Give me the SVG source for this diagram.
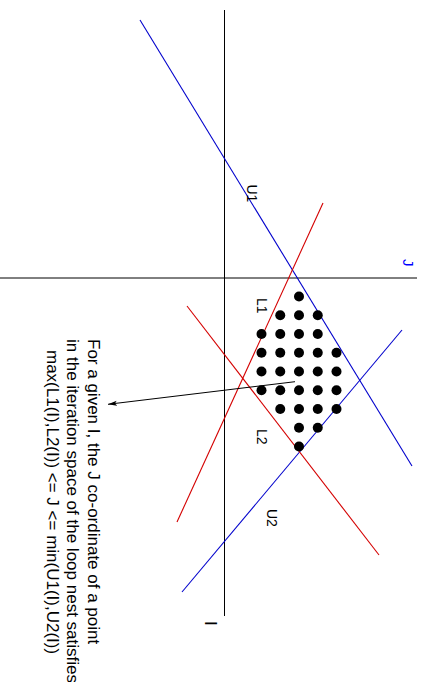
<svg xmlns="http://www.w3.org/2000/svg" width="424" height="682" viewBox="0 0 424 682">
<style>
.ax{stroke:#000;stroke-width:1;fill:none}
.red{stroke:#d40000;stroke-width:1.1;fill:none}
.blue{stroke:#0000cc;stroke-width:1.1;fill:none}
.lbl{font-family:"Liberation Sans",Arial,sans-serif;font-size:14px;fill:#000}
.txt{font-family:"Liberation Sans",Arial,sans-serif;font-size:17px;fill:#000}
.dot{fill:#000}
</style>
<defs>
<marker id="ah" markerWidth="10" markerHeight="6" refX="9" refY="3" orient="auto" markerUnits="userSpaceOnUse">
<path d="M0,0.5 L9,3 L0,5.5 L2,3 Z" fill="#000"/>
</marker>
</defs>
<g id="axes">
<line class="ax" x1="224.5" y1="10" x2="224.5" y2="616"/>
<line class="ax" x1="0" y1="278" x2="417" y2="278"/>
<text class="txt" style="font-size:15px;fill:#0000ff" transform="translate(403,259) rotate(90)">J</text>
<text class="txt" transform="translate(205,621) rotate(90)">I</text>
</g>
<g id="bounds">
<g id="U1"><line class="blue" x1="140" y1="20" x2="412" y2="466"/><text class="lbl" transform="translate(247.3,184.5) rotate(90)">U1</text></g>
<g id="U2"><line class="blue" x1="402" y1="330" x2="182" y2="592"/><text class="lbl" transform="translate(267,509) rotate(90)">U2</text></g>
<g id="L1"><line class="red" x1="323" y1="203" x2="177" y2="522"/><text class="lbl" transform="translate(257,298) rotate(90)">L1</text></g>
<g id="L2"><line class="red" x1="187" y1="306" x2="379" y2="555"/><text class="lbl" transform="translate(256.5,429) rotate(90)">L2</text></g>
</g>
<g id="points">
<circle class="dot" cx="299" cy="296.5" r="5"/>
<circle class="dot" cx="280.25" cy="315.25" r="5"/><circle class="dot" cx="299" cy="315.25" r="5"/><circle class="dot" cx="317.75" cy="315.25" r="5"/>
<circle class="dot" cx="261.5" cy="334" r="5"/><circle class="dot" cx="280.25" cy="334" r="5"/><circle class="dot" cx="299" cy="334" r="5"/><circle class="dot" cx="317.75" cy="334" r="5"/>
<circle class="dot" cx="261.5" cy="352.75" r="5"/><circle class="dot" cx="280.25" cy="352.75" r="5"/><circle class="dot" cx="299" cy="352.75" r="5"/><circle class="dot" cx="317.75" cy="352.75" r="5"/><circle class="dot" cx="336.5" cy="352.75" r="5"/>
<circle class="dot" cx="261.5" cy="371.5" r="5"/><circle class="dot" cx="280.25" cy="371.5" r="5"/><circle class="dot" cx="299" cy="371.5" r="5"/><circle class="dot" cx="317.75" cy="371.5" r="5"/><circle class="dot" cx="336.5" cy="371.5" r="5"/>
<circle class="dot" cx="261.5" cy="390.25" r="5"/><circle class="dot" cx="280.25" cy="390.25" r="5"/><circle class="dot" cx="299" cy="390.25" r="5"/><circle class="dot" cx="317.75" cy="390.25" r="5"/><circle class="dot" cx="336.5" cy="390.25" r="5"/>
<circle class="dot" cx="280.25" cy="409" r="5"/><circle class="dot" cx="299" cy="409" r="5"/><circle class="dot" cx="317.75" cy="409" r="5"/><circle class="dot" cx="336.5" cy="409" r="5"/>
<circle class="dot" cx="299" cy="427.75" r="5"/><circle class="dot" cx="317.75" cy="427.75" r="5"/>
<circle class="dot" cx="299" cy="446.5" r="5"/>
</g>
<g id="connectors">
<line x1="295" y1="381.7" x2="108" y2="404.3" stroke="#000" stroke-width="1" marker-end="url(#ah)"/>
</g>
<g id="note">
<text class="txt" transform="translate(87.5,339) rotate(90)">For a given I, the J co-ordinate of a point</text>
<text class="txt" transform="translate(67,339) rotate(90)">in the iteration space of the loop nest satisfies</text>
<text class="txt" transform="translate(46.7,350) rotate(90)">max(L1(I),L2(I)) &lt;= J &lt;= min(U1(I),U2(I))</text>
</g>
</svg>
